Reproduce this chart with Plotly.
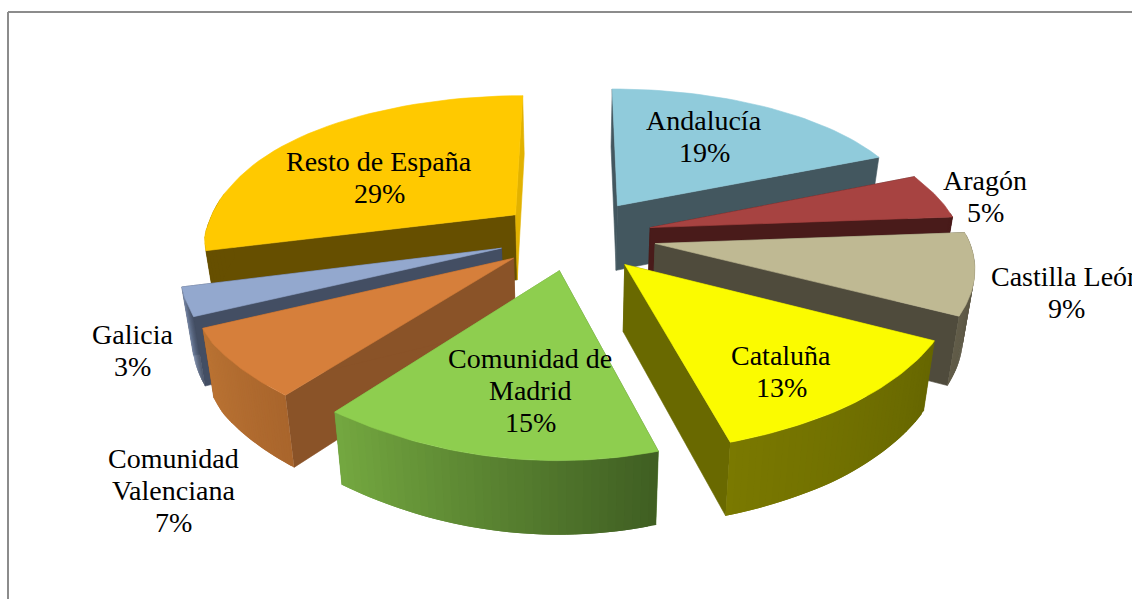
import math
import numpy as np
import plotly.graph_objects as go

# ---- data ----
CATEGORIES = ["Andalucía", "Aragón", "Castilla León", "Cataluña",
              "Comunidad de Madrid", "Comunidad Valenciana", "Galicia", "Resto de España"]
SHARES = [18.8, 5.0, 8.7, 12.9, 15.4, 7.2, 3.0, 29.0]
LINE_BREAKS = {"Comunidad de Madrid": ["Comunidad de", "Madrid"],
               "Comunidad Valenciana": ["Comunidad", "Valenciana"]}

# ---- style ----
TOP = ["#90CBDB", "#A74341", "#BFB993", "#FBFB00", "#8ECE4F", "#D67F3B", "#93A8CE", "#FFC900"]
WALL = ["#43575F", "#491B1A", "#4F4B3C", "#696900", "#4F7A2A", "#8A5328", "#434E63", "#664F00"]
WALL_END = ["#43575F", "#491B1A", "#4F4B3C", "#696900", "#6A9A3A", "#8A5328", "#434E63", "#E2B200"]
RIM_A = ["#43575F", "#491B1A", "#4F4B3C", "#666600", "#3F5E22", "#A9652C", "#434E63", "#664F00"]
RIM_B = ["#43575F", "#491B1A", "#625D49", "#7A7900", "#74A840", "#BA7333", "#8496B8", "#664F00"]
EXPLODE = [82, 80, 83, 78, 74, 76, 77, 77]
DRAW_ORDER = [0, 1, 2, 7, 6, 5, 3, 4]
LABEL_XY = [(704, 120), (985, 180), (1066, 276), (781, 355),
            (530, 358), (173, 458), (132, 334), (379, 161)]
LINE_GAP = 32
FONT = "Liberation Serif"
FONT_SIZE = 28

# view of the tilted pie: horizontal foreshortening by depth into the scene
VIEW_DEPTH = [-1.3, -0.6, -0.4, -0.13, 0.0, 0.32, 0.5, 0.66, 1.0, 1.25]
VIEW_SCALE = [0.82, 0.893, 0.915, 0.955, 0.98, 1.025, 1.05, 1.08, 1.115, 1.10]
CX, CY, RX, RY, TILT, PERSP_Y = 574, 236, 319, 316, 0.46, 0.166
DEPTH, DEPTH_P, VANISH_Q = 66, 0.1, 0.03
STEPS = 40


def project(x, y, down=False):
    X = CX + RX * x * float(np.interp(y, VIEW_DEPTH, VIEW_SCALE))
    Y = CY + RY * TILT * y / (1 - PERSP_Y * y)
    if down:
        X += (CX - X) * VANISH_Q
        Y += DEPTH * (1 + DEPTH_P * y)
    return X, Y


def mix(a, b, f):
    ca = [int(a[i:i + 2], 16) for i in (1, 3, 5)]
    cb = [int(b[i:i + 2], 16) for i in (1, 3, 5)]
    return "#%02x%02x%02x" % tuple(round(u + (v - u) * f) for u, v in zip(ca, cb))


def poly(points, color, edge=0.6):
    xs = [p[0] for p in points] + [points[0][0]]
    ys = [p[1] for p in points] + [points[0][1]]
    return go.Scatter(x=xs, y=ys, mode="lines", fill="toself", fillcolor=color,
                      line=dict(color=color, width=edge), hoverinfo="skip", showlegend=False)


total = sum(SHARES)
spans = []
a = 0.0
for p in SHARES:
    spans.append((a, a + 360 * p / total))
    a += 360 * p / total

fig = go.Figure()
for i in DRAW_ORDER:
    a0, a1 = spans[i]
    mid = math.radians((a0 + a1) / 2)
    e = EXPLODE[i] / RY
    ex, ey = e * math.sin(mid), -e * math.cos(mid)
    angs = [math.radians(a0 + (a1 - a0) * k / STEPS) for k in range(STEPS + 1)]
    rim = [(ex + math.sin(t), ey - math.cos(t)) for t in angs]
    # radial walls
    for corner, col in ((rim[0], WALL[i]), (rim[-1], WALL_END[i])):
        fig.add_trace(poly([project(ex, ey), project(*corner), project(*corner, down=True),
                            project(ex, ey, down=True)], col))
    # outer rim: only the part that faces the viewer, each strip overlaps the next
    for k in range(STEPS):
        if math.cos(angs[k]) > 0.1 and math.cos(angs[k + 1]) > 0.1:
            continue
        f = (k + 0.5) / STEPS
        j = min(k + 2, STEPS)
        fig.add_trace(poly([project(*rim[k]), project(*rim[j]),
                            project(*rim[j], down=True), project(*rim[k], down=True)],
                           mix(RIM_A[i], RIM_B[i], f), edge=0))
    # top face
    fig.add_trace(poly([project(ex, ey)] + [project(*q) for q in rim], TOP[i]))

for i, cat in enumerate(CATEGORIES):
    lines = LINE_BREAKS.get(cat, [cat]) + [f"{round(SHARES[i])}%"]
    x, y = LABEL_XY[i]
    for n, line in enumerate(lines):
        fig.add_annotation(x=x, y=y + n * LINE_GAP, text=line, showarrow=False,
                           xanchor="center", yanchor="middle",
                           font=dict(family=FONT, size=FONT_SIZE, color="#000000"))

frame = dict(color="#8C8C8C", width=2)
fig.add_shape(type="line", x0=8, x1=1132, y0=12, y1=12, line=frame)
fig.add_shape(type="line", x0=8, x1=8, y0=12, y1=599, line=frame)

fig.update_xaxes(range=[0, 1132], visible=False, fixedrange=True)
fig.update_yaxes(range=[599, 0], visible=False, fixedrange=True)
fig.update_layout(width=1132, height=599, margin=dict(l=0, r=0, t=0, b=0),
                  paper_bgcolor="#FFFFFF", plot_bgcolor="#FFFFFF", showlegend=False)
fig.write_html("out.html", config=dict(displayModeBar=False),
               post_script="document.body.style.margin='0';document.body.style.overflow='hidden';")
